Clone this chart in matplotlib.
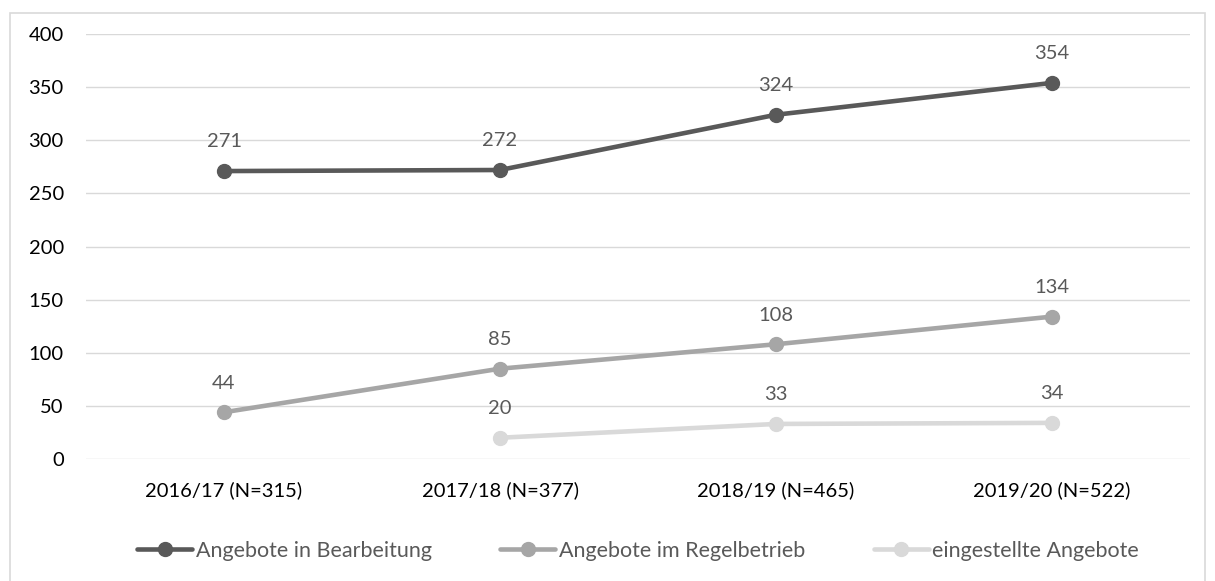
import numpy as np
import matplotlib.pyplot as plt
from matplotlib.patches import Rectangle

plt.rcParams['font.family'] = ['Lato', 'DejaVu Sans']

# Daten
jahre = ['2016/17 (N=315)', '2017/18 (N=377)', '2018/19 (N=465)', '2019/20 (N=522)']
bearbeitung = [271, 272, 324, 354]
regelbetrieb = [44, 85, 108, 134]
eingestellt = [np.nan, 20, 33, 34]

serien = [
    ('Angebote in Bearbeitung', bearbeitung, '#595959'),
    ('Angebote im Regelbetrieb', regelbetrieb, '#A6A6A6'),
    ('eingestellte Angebote', eingestellt, '#D9D9D9'),
]

fs = 14.5

fig = plt.figure(figsize=(12.15, 5.81), dpi=100)
ax = fig.add_axes([86/1215, 1 - 459/581, 1104/1215, 425/581])

x = np.arange(len(jahre))
for name, werte, farbe in serien:
    ax.plot(x, werte, color=farbe, lw=3.3, marker='o', ms=10,
            solid_capstyle='round', label=name, zorder=3)
    for xi, v in zip(x, werte):
        if np.isnan(v):
            continue
        ax.annotate(f'{v:.0f}', (xi, v), xytext=(0, 21), textcoords='offset points',
                    ha='center', va='center', fontsize=fs, color='#595959')

ax.set_xlim(-0.5, 3.5)
ax.set_ylim(0, 400)
ax.set_yticks(range(0, 401, 50))
ax.set_xticks(x)
ax.set_xticklabels(jahre)
ax.grid(axis='y', color='#D9D9D9', lw=1)
ax.set_axisbelow(True)
for s in ax.spines.values():
    s.set_visible(False)
ax.tick_params(length=0, labelsize=fs, colors='black')
ax.tick_params(axis='y', pad=16)
ax.tick_params(axis='x', pad=16)

leg = ax.legend(loc='center', bbox_to_anchor=(0.5, (459 - 551) / 425), ncol=3,
                frameon=False, fontsize=15.5, handlelength=2.55, handletextpad=0.15,
                columnspacing=3.2, labelcolor='#595959')

# Rahmen um die Grafik
fig.patches.append(Rectangle((10/1215, -0.05), 1195/1215, 1 - 13/581 + 0.05,
                             transform=fig.transFigure, fill=False,
                             edgecolor='#D9D9D9', lw=1.2))

fig.savefig('out.png', dpi=100)
